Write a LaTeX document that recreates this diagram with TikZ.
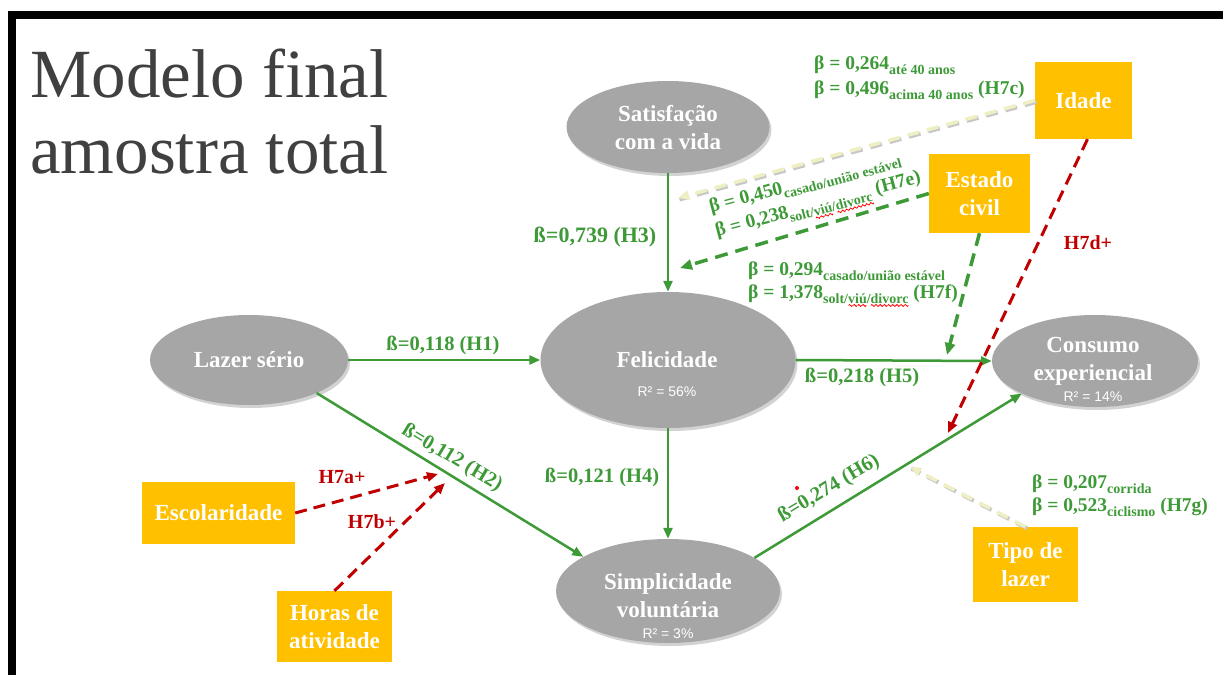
\documentclass[tikz,border=0pt]{standalone}
\usepackage{fontspec}
\setmainfont{Liberation Serif}
\newfontfamily\arialf{Liberation Sans}
\usetikzlibrary{arrows.meta,shadows,shapes.geometric}
\definecolor{grn}{HTML}{3D9A37}
\definecolor{rd}{HTML}{C00000}
\definecolor{gry}{HTML}{A6A6A6}
\definecolor{org}{HTML}{FFC000}
\definecolor{crm}{HTML}{EFEFC4}
\definecolor{ttl}{HTML}{404040}
\newcommand{\sbs}[1]{\raisebox{-0.28em}{\fontsize{14}{14}\selectfont #1}}
\newsavebox\wavebox
\newcommand{\redwave}[1]{\setbox0=\hbox{#1}\rlap{\raisebox{-3pt}{\hbox to \wd0{\xleaders\copy\wavebox\hfil}}}#1}
\begin{document}
\sbox\wavebox{\begin{pgfpicture}\pgfsetlinewidth{0.8pt}\pgfsetstrokecolor{red}%
\pgfpathmoveto{\pgfpoint{0pt}{0pt}}%
\pgfpathcurveto{\pgfpoint{0.8pt}{1.3pt}}{\pgfpoint{1.2pt}{1.3pt}}{\pgfpoint{2pt}{0pt}}%
\pgfpathcurveto{\pgfpoint{2.8pt}{-1.3pt}}{\pgfpoint{3.2pt}{-1.3pt}}{\pgfpoint{4pt}{0pt}}%
\pgfusepath{stroke}\pgfresetboundingbox
\pgfpathrectangle{\pgfpoint{0pt}{-1pt}}{\pgfpoint{4pt}{2pt}}\pgfusepath{use as bounding box}%
\end{pgfpicture}}%
\begin{tikzpicture}[x=1pt,y=-1pt,
 ell/.style={ellipse, fill=gry, draw=none, inner sep=0pt, drop shadow={opacity=0.35, shadow xshift=2pt, shadow yshift=-3pt}},
 obox/.style={rectangle, fill=org, inner sep=0pt, text=white, font=\fontsize{23}{28}\selectfont\bfseries, align=center},
 ntext/.style={text=white, font=\fontsize{23}{28}\selectfont\bfseries, align=center, inner sep=0pt},
 rtext/.style={text=white, font=\arialf\fontsize{14}{14}\selectfont, inner sep=0pt},
 garrow/.style={draw=grn, line width=2.5pt, -{Triangle[length=11pt,width=9pt]}},
 glabel/.style={text=grn, font=\fontsize{20.5}{24}\selectfont\bfseries, inner sep=0pt},
 blabel/.style={text=grn, font=\fontsize{19.5}{24}\selectfont\bfseries, inner sep=0pt},
 rlabel/.style={text=rd, font=\fontsize{20}{24}\selectfont\bfseries, inner sep=0pt},
 rdash/.style={draw=rd, line width=3pt, dash pattern=on 12pt off 7pt, -{Triangle[length=11pt,width=9pt]}},
 gdash/.style={draw=grn, line width=3.5pt, dash pattern=on 13pt off 8pt, -{Triangle[length=12pt,width=10pt]}},
 cdash/.style={draw=crm, line width=3.5pt, dash pattern=on 12pt off 8pt, -{Triangle[length=11pt,width=9pt]}},
 cshadow/.style={draw=black!22, line width=4pt, dash pattern=on 12pt off 8pt},
]
\useasboundingbox (0,0) rectangle (1223,675);
\fill[white] (0,0) rectangle (1223,675);
\fill[black] (8,11) rectangle (1223,19);
\fill[black] (8,11) rectangle (16,675);

% title
\node[anchor=base west, text=ttl, font=\fontsize{69}{69}\selectfont, inner sep=0pt] (t1) at (30,97) {Modelo final};
\node[anchor=base west, text=ttl, font=\fontsize{69}{69}\selectfont, inner sep=0pt] (t2) at (30,173) {amostra total};

% ellipses
\node[ell, minimum width=203pt, minimum height=92pt] (sat) at (668,127) {};
\node[ell, minimum width=255pt, minimum height=136pt] (fel) at (668,360) {};
\node[ell, minimum width=198pt, minimum height=90pt] (laz) at (249,360) {};
\node[ell, minimum width=206pt, minimum height=92pt] (con) at (1095,361) {};
\node[ell, minimum width=224pt, minimum height=104pt] (sim) at (668,591) {};

\node[ntext] (satt) at (668,128) {Satisfação\\com a vida};
\node[ntext] (felt) at (667,360) {Felicidade};
\node[rtext] (felr) at (667,392) {R² = 56\%};
\node[ntext] (lazt) at (249,360) {Lazer sério};
\node[ntext] (cont) at (1093,361) {Consumo\\experiencial};
\node[rtext] (conr) at (1093,397) {R² = 14\%};
\node[ntext] (simt) at (668,596) {Simplicidade\\voluntária};
\node[rtext] (simr) at (668,634) {R² = 3\%};

% boxes
\node[obox, minimum width=97pt, minimum height=77pt] (ida) at (1083.5,100.5) {Idade};
\node[obox, minimum width=101pt, minimum height=79pt] (est) at (979.5,193.5) {Estado\\civil};
\node[obox, minimum width=153pt, minimum height=62pt] (esc) at (218.5,513) {Escolaridade};
\node[obox, minimum width=115pt, minimum height=71pt] (hor) at (334.5,626.5) {Horas de\\atividade};
\node[obox, minimum width=105pt, minimum height=75pt] (tip) at (1025.5,564.5) {Tipo de\\lazer};

% solid arrows
\draw[garrow] (laz.east) -- (fel.west);
\draw[garrow] (laz.-26) -- (sim.158);
\draw[garrow] (sat.south) -- (fel.north);
\draw[garrow] (fel.south) -- (sim.north);
\draw[garrow] (fel.east) -- (con.west);
\draw[garrow] (sim.21) -- (con.204);

\node[glabel] (l1) at (443,345) {ß=0,118 (H1)};
\node[glabel, font=\fontsize{22}{24}\selectfont\bfseries] (l3) at (595,237) {ß=0,739 (H3)};
\node[glabel] (l4) at (602,477) {ß=0,121 (H4)};
\node[glabel] (l5) at (862,377) {ß=0,218 (H5)};
\node[glabel, rotate=-31] (l2) at (452,458) {ß=0,112 (H2)};
\node[glabel, rotate=31] (l6) at (829,489) {ß=0,274 (H6)};
\fill[red] (797,488) circle (2);

% dashed arrows
\coordinate (c1) at (678,198);
\coordinate (c2) at (680,268);
\coordinate (c3) at (947,355);
\coordinate (c4) at (948,433);
\coordinate (c5) at (910,467);
\coordinate (c6) at (438,474);
\coordinate (c7) at (445,483);
\draw[cshadow] ([shift={(1.5,1.5)}]ida.west) -- ([shift={(1.5,1.5)}]c1);
\draw[cdash] (ida.west) -- (c1);
\draw[cshadow] ([shift={(1.5,1.5)}]tip.north) -- ([shift={(1.5,1.5)}]c5);
\draw[cdash] (tip.north) -- (c5);
\draw[gdash] (est.west) -- (c2);
\draw[gdash] (est.south) -- (c3);
\draw[rdash] ([xshift=4pt]ida.south) -- (c4);
\draw[rdash] (esc.east) -- (c6);
\draw[rdash] (hor.north) -- (c7);

% beta labels
\node[blabel, anchor=base west] (b1) at (814,69) {β = 0,264\sbs{até 40 anos}};
\node[blabel, anchor=base west] (b2) at (814,94) {β = 0,496\sbs{acima 40 anos} (H7c)};
\node[blabel, rotate=15, anchor=base west] (b3) at (711,213) {β = 0,450\sbs{casado/união estável}};
\node[blabel, rotate=15, anchor=base west] (b4) at (717,237) {β = 0,238\sbs{solt/\redwave{viú}/\redwave{divorc}} (H7e)};
\node[blabel, anchor=base west] (b5) at (748,275) {β = 0,294\sbs{casado/união estável}};
\node[blabel, anchor=base west] (b6) at (748,298) {β = 1,378\sbs{solt/\redwave{viú}/\redwave{divorc}} (H7f)};
\node[blabel, anchor=base west] (b7) at (1032,488) {β = 0,207\sbs{corrida}};
\node[blabel, anchor=base west] (b8) at (1032,511) {β = 0,523\sbs{ciclismo} (H7g)};

\node[rlabel] (r1) at (342,477) {H7a+};
\node[rlabel] (r2) at (372,522) {H7b+};
\node[rlabel] (r3) at (1088,243) {H7d+};
\end{tikzpicture}
\end{document}
